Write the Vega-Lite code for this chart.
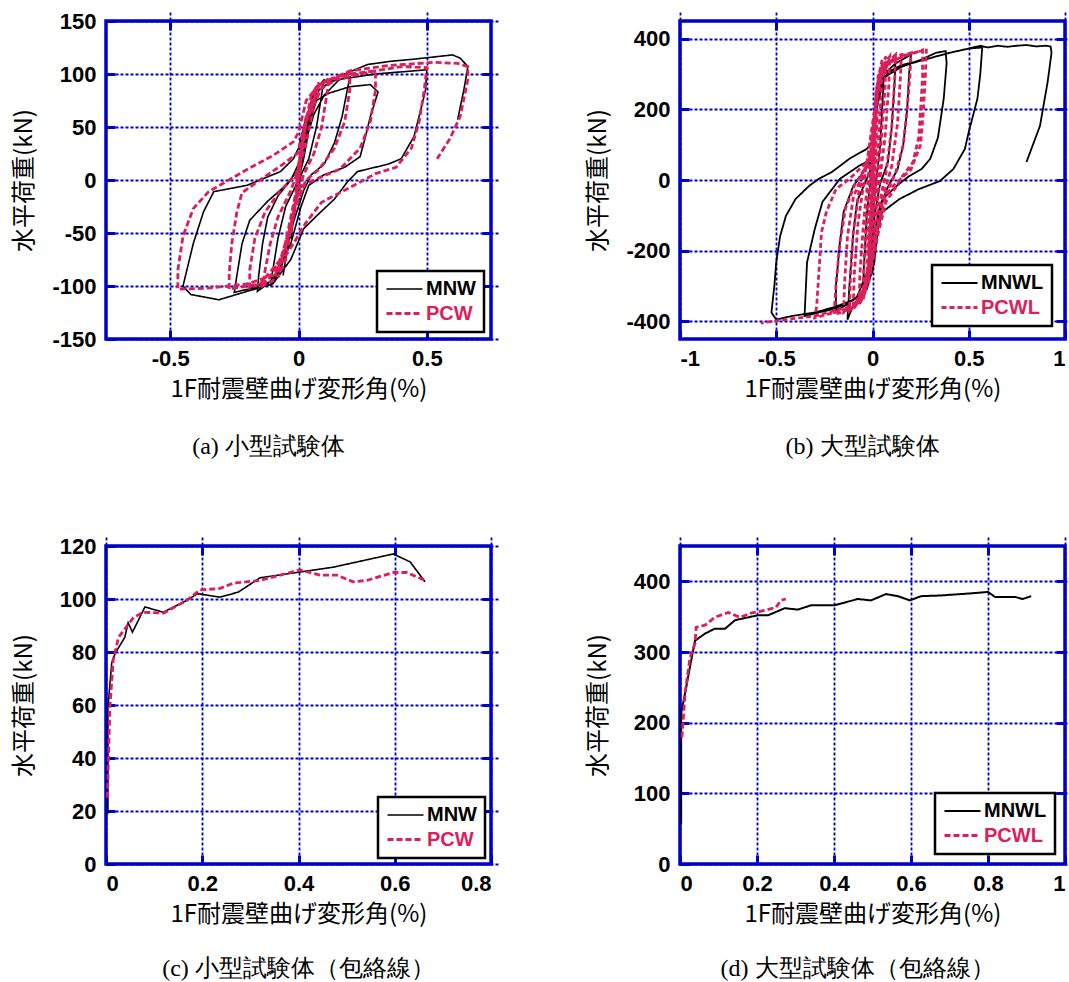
{
"$schema": "https://vega.github.io/schema/vega-lite/v6.json",
"padding": {"left": 10, "top": 8, "right": 0, "bottom": 0},
"background": "white",
"datasets": {
"a": [
{"s":"MNW","x":0,"y":0},{"s":"MNW","x":0.01,"y":30},{"s":"MNW","x":0.03,"y":60},{"s":"MNW","x":0.02,"y":40},{"s":"MNW","x":0,"y":10},{"s":"MNW","x":-0.01,"y":-20},{"s":"MNW","x":-0.03,"y":-55},{"s":"MNW","x":-0.02,"y":-35},{"s":"MNW","x":0,"y":-5},
{"s":"MNW","x":0.02,"y":40},{"s":"MNW","x":0.05,"y":75},{"s":"MNW","x":0.07,"y":88},{"s":"MNW","x":0.05,"y":60},{"s":"MNW","x":0.02,"y":20},{"s":"MNW","x":0,"y":0},{"s":"MNW","x":-0.02,"y":-35},{"s":"MNW","x":-0.05,"y":-75},{"s":"MNW","x":-0.06,"y":-90},{"s":"MNW","x":-0.04,"y":-60},{"s":"MNW","x":-0.01,"y":-20},{"s":"MNW","x":0,"y":5},
{"s":"MNW","x":0.03,"y":50},{"s":"MNW","x":0.07,"y":85},{"s":"MNW","x":0.1,"y":95},{"s":"MNW","x":0.09,"y":80},{"s":"MNW","x":0.07,"y":50},{"s":"MNW","x":0.04,"y":20},{"s":"MNW","x":0.01,"y":5},{"s":"MNW","x":-0.01,"y":-20},{"s":"MNW","x":-0.04,"y":-60},{"s":"MNW","x":-0.08,"y":-90},{"s":"MNW","x":-0.11,"y":-100},{"s":"MNW","x":-0.1,"y":-85},{"s":"MNW","x":-0.08,"y":-55},{"s":"MNW","x":-0.05,"y":-25},{"s":"MNW","x":-0.01,"y":-5},{"s":"MNW","x":0.01,"y":15},
{"s":"MNW","x":0.04,"y":55},{"s":"MNW","x":0.08,"y":85},{"s":"MNW","x":0.13,"y":93},{"s":"MNW","x":0.2,"y":97},{"s":"MNW","x":0.19,"y":85},{"s":"MNW","x":0.17,"y":60},{"s":"MNW","x":0.14,"y":35},{"s":"MNW","x":0.1,"y":15},{"s":"MNW","x":0.05,"y":5},{"s":"MNW","x":0.02,"y":-10},{"s":"MNW","x":-0.02,"y":-40},{"s":"MNW","x":-0.07,"y":-85},{"s":"MNW","x":-0.12,"y":-98},{"s":"MNW","x":-0.16,"y":-105},{"s":"MNW","x":-0.155,"y":-90},{"s":"MNW","x":-0.14,"y":-60},{"s":"MNW","x":-0.12,"y":-35},{"s":"MNW","x":-0.08,"y":-15},{"s":"MNW","x":-0.03,"y":0},{"s":"MNW","x":0,"y":15},
{"s":"MNW","x":0.03,"y":45},{"s":"MNW","x":0.07,"y":75},{"s":"MNW","x":0.12,"y":82},{"s":"MNW","x":0.2,"y":88},{"s":"MNW","x":0.28,"y":90},{"s":"MNW","x":0.31,"y":83},{"s":"MNW","x":0.28,"y":60},{"s":"MNW","x":0.26,"y":40},{"s":"MNW","x":0.24,"y":22},{"s":"MNW","x":0.18,"y":12},{"s":"MNW","x":0.1,"y":5},{"s":"MNW","x":0.04,"y":-5},{"s":"MNW","x":0.01,"y":-25},{"s":"MNW","x":-0.03,"y":-60},{"s":"MNW","x":-0.1,"y":-95},{"s":"MNW","x":-0.18,"y":-102},{"s":"MNW","x":-0.25,"y":-106},{"s":"MNW","x":-0.24,"y":-90},{"s":"MNW","x":-0.22,"y":-60},{"s":"MNW","x":-0.19,"y":-38},{"s":"MNW","x":-0.12,"y":-20},{"s":"MNW","x":-0.05,"y":-5},{"s":"MNW","x":0,"y":10},
{"s":"MNW","x":0.02,"y":30},{"s":"MNW","x":0.06,"y":62},{"s":"MNW","x":0.1,"y":80},{"s":"MNW","x":0.16,"y":95},{"s":"MNW","x":0.3,"y":100},{"s":"MNW","x":0.4,"y":102},{"s":"MNW","x":0.5,"y":104},{"s":"MNW","x":0.495,"y":85},{"s":"MNW","x":0.48,"y":70},{"s":"MNW","x":0.45,"y":41},{"s":"MNW","x":0.4,"y":20},{"s":"MNW","x":0.35,"y":15},{"s":"MNW","x":0.23,"y":8},{"s":"MNW","x":0.19,"y":-2},{"s":"MNW","x":0.14,"y":-18},{"s":"MNW","x":0.07,"y":-34},{"s":"MNW","x":0.02,"y":-46},{"s":"MNW","x":-0.03,"y":-75},{"s":"MNW","x":-0.1,"y":-98},{"s":"MNW","x":-0.2,"y":-105},{"s":"MNW","x":-0.31,"y":-113},{"s":"MNW","x":-0.42,"y":-108},{"s":"MNW","x":-0.45,"y":-100},{"s":"MNW","x":-0.44,"y":-90},{"s":"MNW","x":-0.41,"y":-60},{"s":"MNW","x":-0.37,"y":-30},{"s":"MNW","x":-0.33,"y":-11},{"s":"MNW","x":-0.2,"y":-5},{"s":"MNW","x":-0.07,"y":8},{"s":"MNW","x":-0.02,"y":20},
{"s":"MNW","x":0,"y":30},{"s":"MNW","x":0.03,"y":60},{"s":"MNW","x":0.08,"y":85},{"s":"MNW","x":0.15,"y":97},{"s":"MNW","x":0.27,"y":109},{"s":"MNW","x":0.36,"y":112},{"s":"MNW","x":0.45,"y":114},{"s":"MNW","x":0.6,"y":118},{"s":"MNW","x":0.63,"y":115},{"s":"MNW","x":0.66,"y":107},{"s":"MNW","x":0.645,"y":86},{"s":"MNW","x":0.62,"y":57},
{"s":"PCW","x":0,"y":0},{"s":"PCW","x":0.01,"y":30},{"s":"PCW","x":0.03,"y":55},{"s":"PCW","x":0.02,"y":35},{"s":"PCW","x":0,"y":10},{"s":"PCW","x":-0.01,"y":-20},{"s":"PCW","x":-0.03,"y":-50},{"s":"PCW","x":-0.02,"y":-30},{"s":"PCW","x":0,"y":-5},
{"s":"PCW","x":0.02,"y":45},{"s":"PCW","x":0.05,"y":80},{"s":"PCW","x":0.08,"y":92},{"s":"PCW","x":0.06,"y":70},{"s":"PCW","x":0.03,"y":35},{"s":"PCW","x":0,"y":10},{"s":"PCW","x":-0.02,"y":-30},{"s":"PCW","x":-0.05,"y":-75},{"s":"PCW","x":-0.08,"y":-92},{"s":"PCW","x":-0.06,"y":-70},{"s":"PCW","x":-0.03,"y":-35},{"s":"PCW","x":0,"y":0},
{"s":"PCW","x":0.03,"y":55},{"s":"PCW","x":0.07,"y":88},{"s":"PCW","x":0.12,"y":96},{"s":"PCW","x":0.11,"y":80},{"s":"PCW","x":0.09,"y":50},{"s":"PCW","x":0.06,"y":25},{"s":"PCW","x":0.02,"y":5},{"s":"PCW","x":-0.01,"y":-20},{"s":"PCW","x":-0.05,"y":-65},{"s":"PCW","x":-0.1,"y":-95},{"s":"PCW","x":-0.14,"y":-100},{"s":"PCW","x":-0.13,"y":-85},{"s":"PCW","x":-0.11,"y":-60},{"s":"PCW","x":-0.08,"y":-35},{"s":"PCW","x":-0.03,"y":-10},{"s":"PCW","x":0,"y":10},
{"s":"PCW","x":0.03,"y":55},{"s":"PCW","x":0.08,"y":90},{"s":"PCW","x":0.14,"y":97},{"s":"PCW","x":0.2,"y":100},{"s":"PCW","x":0.2,"y":85},{"s":"PCW","x":0.18,"y":55},{"s":"PCW","x":0.14,"y":30},{"s":"PCW","x":0.08,"y":10},{"s":"PCW","x":0.03,"y":0},{"s":"PCW","x":-0.01,"y":-20},{"s":"PCW","x":-0.06,"y":-70},{"s":"PCW","x":-0.12,"y":-95},{"s":"PCW","x":-0.19,"y":-102},{"s":"PCW","x":-0.19,"y":-85},{"s":"PCW","x":-0.17,"y":-55},{"s":"PCW","x":-0.13,"y":-30},{"s":"PCW","x":-0.07,"y":-10},{"s":"PCW","x":-0.01,"y":5},{"s":"PCW","x":0,"y":15},
{"s":"PCW","x":0.03,"y":55},{"s":"PCW","x":0.1,"y":92},{"s":"PCW","x":0.2,"y":100},{"s":"PCW","x":0.3,"y":103},{"s":"PCW","x":0.3,"y":85},{"s":"PCW","x":0.28,"y":55},{"s":"PCW","x":0.24,"y":30},{"s":"PCW","x":0.16,"y":10},{"s":"PCW","x":0.08,"y":2},{"s":"PCW","x":0.02,"y":-5},{"s":"PCW","x":-0.01,"y":-25},{"s":"PCW","x":-0.07,"y":-75},{"s":"PCW","x":-0.15,"y":-98},{"s":"PCW","x":-0.27,"y":-103},{"s":"PCW","x":-0.27,"y":-88},{"s":"PCW","x":-0.26,"y":-60},{"s":"PCW","x":-0.24,"y":-30},{"s":"PCW","x":-0.22,"y":-12},{"s":"PCW","x":-0.15,"y":0},{"s":"PCW","x":-0.06,"y":15},{"s":"PCW","x":0,"y":26},
{"s":"PCW","x":0.03,"y":60},{"s":"PCW","x":0.08,"y":85},{"s":"PCW","x":0.15,"y":95},{"s":"PCW","x":0.3,"y":103},{"s":"PCW","x":0.4,"y":107},{"s":"PCW","x":0.5,"y":106},{"s":"PCW","x":0.49,"y":85},{"s":"PCW","x":0.47,"y":55},{"s":"PCW","x":0.44,"y":30},{"s":"PCW","x":0.38,"y":12},{"s":"PCW","x":0.3,"y":6},{"s":"PCW","x":0.24,"y":-2},{"s":"PCW","x":0.09,"y":-21},{"s":"PCW","x":0.03,"y":-40},{"s":"PCW","x":-0.02,"y":-60},{"s":"PCW","x":-0.1,"y":-90},{"s":"PCW","x":-0.2,"y":-98},{"s":"PCW","x":-0.35,"y":-102},{"s":"PCW","x":-0.47,"y":-103},{"s":"PCW","x":-0.47,"y":-85},{"s":"PCW","x":-0.45,"y":-53},{"s":"PCW","x":-0.41,"y":-27},{"s":"PCW","x":-0.35,"y":-11},{"s":"PCW","x":-0.2,"y":10},{"s":"PCW","x":-0.1,"y":23},{"s":"PCW","x":-0.02,"y":36},{"s":"PCW","x":0,"y":45},
{"s":"PCW","x":0.03,"y":75},{"s":"PCW","x":0.08,"y":90},{"s":"PCW","x":0.2,"y":103},{"s":"PCW","x":0.35,"y":108},{"s":"PCW","x":0.53,"y":111},{"s":"PCW","x":0.62,"y":110},{"s":"PCW","x":0.66,"y":107},{"s":"PCW","x":0.66,"y":95},{"s":"PCW","x":0.63,"y":60},{"s":"PCW","x":0.59,"y":39},{"s":"PCW","x":0.54,"y":20}
],
"b": [
{"s":"MNWL","x":0,"y":0},{"s":"MNWL","x":0.01,"y":150},{"s":"MNWL","x":0.02,"y":250},{"s":"MNWL","x":0.015,"y":150},{"s":"MNWL","x":0,"y":0},{"s":"MNWL","x":-0.01,"y":-150},{"s":"MNWL","x":-0.02,"y":-250},{"s":"MNWL","x":-0.015,"y":-150},{"s":"MNWL","x":0,"y":0},
{"s":"MNWL","x":0.01,"y":150},{"s":"MNWL","x":0.03,"y":280},{"s":"MNWL","x":0.06,"y":330},{"s":"MNWL","x":0.055,"y":250},{"s":"MNWL","x":0.04,"y":100},{"s":"MNWL","x":0.02,"y":0},{"s":"MNWL","x":0,"y":-100},{"s":"MNWL","x":-0.02,"y":-250},{"s":"MNWL","x":-0.05,"y":-330},{"s":"MNWL","x":-0.045,"y":-250},{"s":"MNWL","x":-0.03,"y":-100},{"s":"MNWL","x":-0.01,"y":0},{"s":"MNWL","x":0,"y":80},
{"s":"MNWL","x":0.02,"y":250},{"s":"MNWL","x":0.05,"y":310},{"s":"MNWL","x":0.09,"y":335},{"s":"MNWL","x":0.12,"y":345},{"s":"MNWL","x":0.115,"y":280},{"s":"MNWL","x":0.1,"y":150},{"s":"MNWL","x":0.08,"y":50},{"s":"MNWL","x":0.04,"y":-10},{"s":"MNWL","x":0.01,"y":-100},{"s":"MNWL","x":-0.02,"y":-250},{"s":"MNWL","x":-0.06,"y":-330},{"s":"MNWL","x":-0.1,"y":-355},{"s":"MNWL","x":-0.13,"y":-395},{"s":"MNWL","x":-0.12,"y":-300},{"s":"MNWL","x":-0.1,"y":-150},{"s":"MNWL","x":-0.08,"y":-60},{"s":"MNWL","x":-0.04,"y":-10},{"s":"MNWL","x":-0.01,"y":30},{"s":"MNWL","x":0,"y":80},
{"s":"MNWL","x":0.02,"y":230},{"s":"MNWL","x":0.06,"y":300},{"s":"MNWL","x":0.12,"y":330},{"s":"MNWL","x":0.2,"y":355},{"s":"MNWL","x":0.19,"y":300},{"s":"MNWL","x":0.18,"y":200},{"s":"MNWL","x":0.16,"y":100},{"s":"MNWL","x":0.13,"y":30},{"s":"MNWL","x":0.08,"y":-20},{"s":"MNWL","x":0.04,"y":-70},{"s":"MNWL","x":0.01,"y":-150},{"s":"MNWL","x":-0.02,"y":-250},{"s":"MNWL","x":-0.08,"y":-330},{"s":"MNWL","x":-0.14,"y":-355},{"s":"MNWL","x":-0.19,"y":-370},{"s":"MNWL","x":-0.19,"y":-300},{"s":"MNWL","x":-0.17,"y":-180},{"s":"MNWL","x":-0.15,"y":-90},{"s":"MNWL","x":-0.1,"y":-17},{"s":"MNWL","x":-0.05,"y":20},{"s":"MNWL","x":0,"y":60},
{"s":"MNWL","x":0.02,"y":200},{"s":"MNWL","x":0.06,"y":290},{"s":"MNWL","x":0.15,"y":320},{"s":"MNWL","x":0.25,"y":340},{"s":"MNWL","x":0.33,"y":360},{"s":"MNWL","x":0.38,"y":365},{"s":"MNWL","x":0.385,"y":330},{"s":"MNWL","x":0.37,"y":230},{"s":"MNWL","x":0.34,"y":120},{"s":"MNWL","x":0.3,"y":60},{"s":"MNWL","x":0.255,"y":31},{"s":"MNWL","x":0.19,"y":11},{"s":"MNWL","x":0.125,"y":-17},{"s":"MNWL","x":0.052,"y":-54},{"s":"MNWL","x":0.036,"y":-102},{"s":"MNWL","x":0.02,"y":-180},{"s":"MNWL","x":0,"y":-260},{"s":"MNWL","x":-0.05,"y":-320},{"s":"MNWL","x":-0.12,"y":-345},{"s":"MNWL","x":-0.2,"y":-365},{"s":"MNWL","x":-0.28,"y":-375},{"s":"MNWL","x":-0.353,"y":-385},{"s":"MNWL","x":-0.34,"y":-233},{"s":"MNWL","x":-0.3,"y":-139},{"s":"MNWL","x":-0.26,"y":-62},{"s":"MNWL","x":-0.21,"y":-26},{"s":"MNWL","x":-0.17,"y":3},{"s":"MNWL","x":-0.07,"y":40},{"s":"MNWL","x":0,"y":60},
{"s":"MNWL","x":0.01,"y":150},{"s":"MNWL","x":0.04,"y":280},{"s":"MNWL","x":0.1,"y":310},{"s":"MNWL","x":0.2,"y":330},{"s":"MNWL","x":0.3,"y":345},{"s":"MNWL","x":0.4,"y":360},{"s":"MNWL","x":0.5,"y":372},{"s":"MNWL","x":0.57,"y":375},{"s":"MNWL","x":0.56,"y":300},{"s":"MNWL","x":0.545,"y":230},{"s":"MNWL","x":0.5,"y":136},{"s":"MNWL","x":0.48,"y":88},{"s":"MNWL","x":0.42,"y":31},{"s":"MNWL","x":0.35,"y":-3},{"s":"MNWL","x":0.24,"y":-26},{"s":"MNWL","x":0.14,"y":-54},{"s":"MNWL","x":0.05,"y":-91},{"s":"MNWL","x":0.02,"y":-159},{"s":"MNWL","x":0.01,"y":-233},{"s":"MNWL","x":-0.03,"y":-310},{"s":"MNWL","x":-0.1,"y":-340},{"s":"MNWL","x":-0.2,"y":-360},{"s":"MNWL","x":-0.3,"y":-375},{"s":"MNWL","x":-0.42,"y":-385},{"s":"MNWL","x":-0.5,"y":-395},{"s":"MNWL","x":-0.525,"y":-375},{"s":"MNWL","x":-0.51,"y":-300},{"s":"MNWL","x":-0.5,"y":-233},{"s":"MNWL","x":-0.48,"y":-159},{"s":"MNWL","x":-0.45,"y":-102},{"s":"MNWL","x":-0.4,"y":-54},{"s":"MNWL","x":-0.33,"y":-17},{"s":"MNWL","x":-0.28,"y":3},{"s":"MNWL","x":-0.21,"y":23},{"s":"MNWL","x":-0.12,"y":60},{"s":"MNWL","x":-0.03,"y":88},{"s":"MNWL","x":0,"y":110},
{"s":"MNWL","x":0.02,"y":250},{"s":"MNWL","x":0.06,"y":300},{"s":"MNWL","x":0.15,"y":325},{"s":"MNWL","x":0.3,"y":345},{"s":"MNWL","x":0.4,"y":360},{"s":"MNWL","x":0.5,"y":372},{"s":"MNWL","x":0.56,"y":380},{"s":"MNWL","x":0.6,"y":375},{"s":"MNWL","x":0.65,"y":380},{"s":"MNWL","x":0.7,"y":377},{"s":"MNWL","x":0.75,"y":380},{"s":"MNWL","x":0.8,"y":382},{"s":"MNWL","x":0.85,"y":378},{"s":"MNWL","x":0.9,"y":380},{"s":"MNWL","x":0.925,"y":378},{"s":"MNWL","x":0.93,"y":360},{"s":"MNWL","x":0.91,"y":278},{"s":"MNWL","x":0.87,"y":153},{"s":"MNWL","x":0.8,"y":51},
{"s":"PCWL","x":0,"y":0},{"s":"PCWL","x":0.01,"y":120},{"s":"PCWL","x":0.02,"y":200},{"s":"PCWL","x":0.012,"y":80},{"s":"PCWL","x":0,"y":-20},{"s":"PCWL","x":-0.01,"y":-120},{"s":"PCWL","x":-0.02,"y":-200},{"s":"PCWL","x":-0.012,"y":-80},{"s":"PCWL","x":0,"y":20},
{"s":"PCWL","x":0.015,"y":200},{"s":"PCWL","x":0.03,"y":300},{"s":"PCWL","x":0.022,"y":150},{"s":"PCWL","x":0.008,"y":0},{"s":"PCWL","x":-0.01,"y":-150},{"s":"PCWL","x":-0.03,"y":-300},{"s":"PCWL","x":-0.022,"y":-150},{"s":"PCWL","x":-0.008,"y":0},
{"s":"PCWL","x":0.01,"y":150},{"s":"PCWL","x":0.03,"y":290},{"s":"PCWL","x":0.05,"y":340},{"s":"PCWL","x":0.045,"y":250},{"s":"PCWL","x":0.03,"y":100},{"s":"PCWL","x":0.01,"y":-30},{"s":"PCWL","x":-0.01,"y":-170},{"s":"PCWL","x":-0.03,"y":-300},{"s":"PCWL","x":-0.05,"y":-340},{"s":"PCWL","x":-0.045,"y":-250},{"s":"PCWL","x":-0.03,"y":-100},{"s":"PCWL","x":-0.01,"y":30},
{"s":"PCWL","x":0.01,"y":170},{"s":"PCWL","x":0.04,"y":310},{"s":"PCWL","x":0.07,"y":350},{"s":"PCWL","x":0.065,"y":260},{"s":"PCWL","x":0.045,"y":110},{"s":"PCWL","x":0.02,"y":-20},{"s":"PCWL","x":-0.01,"y":-180},{"s":"PCWL","x":-0.04,"y":-320},{"s":"PCWL","x":-0.07,"y":-355},{"s":"PCWL","x":-0.065,"y":-260},{"s":"PCWL","x":-0.045,"y":-110},{"s":"PCWL","x":-0.02,"y":20},
{"s":"PCWL","x":0.01,"y":180},{"s":"PCWL","x":0.05,"y":320},{"s":"PCWL","x":0.09,"y":350},{"s":"PCWL","x":0.085,"y":270},{"s":"PCWL","x":0.065,"y":120},{"s":"PCWL","x":0.035,"y":-10},{"s":"PCWL","x":0,"y":-170},{"s":"PCWL","x":-0.05,"y":-330},{"s":"PCWL","x":-0.1,"y":-365},{"s":"PCWL","x":-0.095,"y":-270},{"s":"PCWL","x":-0.075,"y":-120},{"s":"PCWL","x":-0.04,"y":10},
{"s":"PCWL","x":0,"y":160},{"s":"PCWL","x":0.05,"y":320},{"s":"PCWL","x":0.12,"y":355},{"s":"PCWL","x":0.115,"y":280},{"s":"PCWL","x":0.1,"y":150},{"s":"PCWL","x":0.07,"y":20},{"s":"PCWL","x":0.03,"y":-80},{"s":"PCWL","x":0,"y":-200},{"s":"PCWL","x":-0.06,"y":-340},{"s":"PCWL","x":-0.12,"y":-370},{"s":"PCWL","x":-0.115,"y":-280},{"s":"PCWL","x":-0.1,"y":-150},{"s":"PCWL","x":-0.07,"y":-30},{"s":"PCWL","x":-0.03,"y":40},
{"s":"PCWL","x":0,"y":150},{"s":"PCWL","x":0.05,"y":320},{"s":"PCWL","x":0.1,"y":345},{"s":"PCWL","x":0.15,"y":355},{"s":"PCWL","x":0.145,"y":290},{"s":"PCWL","x":0.13,"y":160},{"s":"PCWL","x":0.1,"y":40},{"s":"PCWL","x":0.06,"y":-40},{"s":"PCWL","x":0.02,"y":-150},{"s":"PCWL","x":-0.03,"y":-300},{"s":"PCWL","x":-0.1,"y":-360},{"s":"PCWL","x":-0.15,"y":-375},{"s":"PCWL","x":-0.145,"y":-290},{"s":"PCWL","x":-0.13,"y":-160},{"s":"PCWL","x":-0.1,"y":-50},{"s":"PCWL","x":-0.05,"y":20},{"s":"PCWL","x":0,"y":80},
{"s":"PCWL","x":0.02,"y":250},{"s":"PCWL","x":0.07,"y":330},{"s":"PCWL","x":0.14,"y":350},{"s":"PCWL","x":0.2,"y":360},{"s":"PCWL","x":0.195,"y":300},{"s":"PCWL","x":0.18,"y":200},{"s":"PCWL","x":0.16,"y":100},{"s":"PCWL","x":0.12,"y":20},{"s":"PCWL","x":0.07,"y":-40},{"s":"PCWL","x":0.03,"y":-130},{"s":"PCWL","x":-0.02,"y":-280},{"s":"PCWL","x":-0.1,"y":-360},{"s":"PCWL","x":-0.16,"y":-375},{"s":"PCWL","x":-0.2,"y":-380},{"s":"PCWL","x":-0.19,"y":-300},{"s":"PCWL","x":-0.17,"y":-180},{"s":"PCWL","x":-0.14,"y":-80},{"s":"PCWL","x":-0.09,"y":-10},{"s":"PCWL","x":-0.03,"y":40},{"s":"PCWL","x":0,"y":90},
{"s":"PCWL","x":0.02,"y":260},{"s":"PCWL","x":0.08,"y":330},{"s":"PCWL","x":0.16,"y":350},{"s":"PCWL","x":0.22,"y":360},{"s":"PCWL","x":0.26,"y":368},{"s":"PCWL","x":0.26,"y":290},{"s":"PCWL","x":0.25,"y":200},{"s":"PCWL","x":0.24,"y":120},{"s":"PCWL","x":0.21,"y":50},{"s":"PCWL","x":0.156,"y":11},{"s":"PCWL","x":0.125,"y":-17},{"s":"PCWL","x":0.07,"y":-62},{"s":"PCWL","x":0.03,"y":-150},{"s":"PCWL","x":-0.02,"y":-290},{"s":"PCWL","x":-0.1,"y":-360},{"s":"PCWL","x":-0.2,"y":-375},{"s":"PCWL","x":-0.3,"y":-390},{"s":"PCWL","x":-0.29,"y":-357},{"s":"PCWL","x":-0.265,"y":-148},{"s":"PCWL","x":-0.24,"y":-91},{"s":"PCWL","x":-0.19,"y":-26},{"s":"PCWL","x":-0.12,"y":3},{"s":"PCWL","x":-0.05,"y":40},{"s":"PCWL","x":0,"y":60},
{"s":"PCWL","x":0.02,"y":250},{"s":"PCWL","x":0.08,"y":330},{"s":"PCWL","x":0.18,"y":355},{"s":"PCWL","x":0.25,"y":365},{"s":"PCWL","x":0.28,"y":372},{"s":"PCWL","x":0.275,"y":300},{"s":"PCWL","x":0.265,"y":200},{"s":"PCWL","x":0.25,"y":100},{"s":"PCWL","x":0.2,"y":30},{"s":"PCWL","x":0.15,"y":5},{"s":"PCWL","x":0.1,"y":-20},{"s":"PCWL","x":0.05,"y":-60},{"s":"PCWL","x":0.02,"y":-150},{"s":"PCWL","x":-0.01,"y":-250},{"s":"PCWL","x":-0.05,"y":-330},{"s":"PCWL","x":-0.12,"y":-360},{"s":"PCWL","x":-0.2,"y":-370},{"s":"PCWL","x":-0.3,"y":-385},{"s":"PCWL","x":-0.38,"y":-390},{"s":"PCWL","x":-0.45,"y":-395},{"s":"PCWL","x":-0.52,"y":-400},{"s":"PCWL","x":-0.58,"y":-405}
],
"c": [
{"s":"MNW","x":0.004,"y":19},{"s":"MNW","x":0.004,"y":59},{"s":"MNW","x":0.012,"y":76},{"s":"MNW","x":0.019,"y":79.5},{"s":"MNW","x":0.039,"y":85.5},{"s":"MNW","x":0.046,"y":91},{"s":"MNW","x":0.055,"y":87.5},{"s":"MNW","x":0.081,"y":97},{"s":"MNW","x":0.119,"y":95},{"s":"MNW","x":0.168,"y":99.5},{"s":"MNW","x":0.19,"y":102},{"s":"MNW","x":0.237,"y":100.7},{"s":"MNW","x":0.275,"y":102.6},{"s":"MNW","x":0.32,"y":108},{"s":"MNW","x":0.472,"y":112},{"s":"MNW","x":0.597,"y":117},{"s":"MNW","x":0.632,"y":114},{"s":"MNW","x":0.663,"y":106.5},
{"s":"PCW","x":0.003,"y":25},{"s":"PCW","x":0.008,"y":59},{"s":"PCW","x":0.015,"y":77},{"s":"PCW","x":0.026,"y":85.5},{"s":"PCW","x":0.057,"y":93},{"s":"PCW","x":0.078,"y":95},{"s":"PCW","x":0.12,"y":94.7},{"s":"PCW","x":0.168,"y":99.5},{"s":"PCW","x":0.195,"y":103.4},{"s":"PCW","x":0.237,"y":104},{"s":"PCW","x":0.265,"y":106},{"s":"PCW","x":0.32,"y":107},{"s":"PCW","x":0.403,"y":111},{"s":"PCW","x":0.445,"y":109},{"s":"PCW","x":0.48,"y":109},{"s":"PCW","x":0.513,"y":106.5},{"s":"PCW","x":0.542,"y":107},{"s":"PCW","x":0.597,"y":110},{"s":"PCW","x":0.625,"y":110},{"s":"PCW","x":0.663,"y":107}
],
"d": [
{"s":"MNWL","x":0.003,"y":57},{"s":"MNWL","x":0.003,"y":213},{"s":"MNWL","x":0.016,"y":250},{"s":"MNWL","x":0.029,"y":288},{"s":"MNWL","x":0.039,"y":316},{"s":"MNWL","x":0.065,"y":326},{"s":"MNWL","x":0.09,"y":333},{"s":"MNWL","x":0.117,"y":333},{"s":"MNWL","x":0.143,"y":345},{"s":"MNWL","x":0.168,"y":348},{"s":"MNWL","x":0.203,"y":352},{"s":"MNWL","x":0.229,"y":352},{"s":"MNWL","x":0.272,"y":362},{"s":"MNWL","x":0.306,"y":360},{"s":"MNWL","x":0.34,"y":366},{"s":"MNWL","x":0.376,"y":366},{"s":"MNWL","x":0.4,"y":366},{"s":"MNWL","x":0.462,"y":375},{"s":"MNWL","x":0.496,"y":373},{"s":"MNWL","x":0.535,"y":382},{"s":"MNWL","x":0.566,"y":379},{"s":"MNWL","x":0.597,"y":373},{"s":"MNWL","x":0.626,"y":379},{"s":"MNWL","x":0.678,"y":380},{"s":"MNWL","x":0.756,"y":383},{"s":"MNWL","x":0.8,"y":385},{"s":"MNWL","x":0.818,"y":378},{"s":"MNWL","x":0.87,"y":378},{"s":"MNWL","x":0.89,"y":375},{"s":"MNWL","x":0.912,"y":379},
{"s":"PCWL","x":0.005,"y":179},{"s":"PCWL","x":0.013,"y":241},{"s":"PCWL","x":0.026,"y":292},{"s":"PCWL","x":0.039,"y":312},{"s":"PCWL","x":0.042,"y":335},{"s":"PCWL","x":0.065,"y":338},{"s":"PCWL","x":0.09,"y":349},{"s":"PCWL","x":0.125,"y":356},{"s":"PCWL","x":0.156,"y":349},{"s":"PCWL","x":0.184,"y":355},{"s":"PCWL","x":0.22,"y":359},{"s":"PCWL","x":0.249,"y":363},{"s":"PCWL","x":0.262,"y":373},{"s":"PCWL","x":0.275,"y":375}
]
},
"columns": 2,
"spacing": {"row": 72, "column": 89},
"resolve": {"scale": {"color": "independent", "strokeDash": "independent", "strokeWidth": "independent"}, "legend": {"color": "independent", "strokeDash": "independent"}},
"concat": [
{
 "width": 385, "height": 318,
 "title": {"text": "(a)  小型試験体", "orient": "bottom", "dx": -30, "offset": 34},
 "data": {"name": "a"},
 "layer": [
  {"transform": [{"filter": "datum.s == 'MNW'"}],
   "mark": {"type": "line", "clip": true},
   "encoding": {
    "x": {"field": "x", "type": "quantitative", "scale": {"domain": [-0.75, 0.75], "nice": false, "zero": false}, "axis": {"values": [-0.5, 0, 0.5], "title": "1F耐震壁曲げ変形角(%)", "labelExpr": "replace(format(datum.value,'~g'),'\u2212','-')"}},
    "y": {"field": "y", "type": "quantitative", "scale": {"domain": [-150, 150], "nice": false, "zero": false}, "axis": {"values": [-150, -100, -50, 0, 50, 100, 150], "title": "水平荷重(kN)", "labelExpr": "replace(format(datum.value,'~g'),'\u2212','-')"}},
    "color": {"field": "s", "type": "nominal", "scale": {"domain": ["MNW", "PCW"], "range": ["#000000", "#dc1e5a"]},
      "legend": {"orient": "bottom-right", "title": null, "offset": 7, "padding": 8, "strokeColor": "#000000", "fillColor": "#ffffff", "symbolType": "M-2,0H2", "symbolSize": 324, "symbolOffset": 9, "symbolStrokeWidth": 2.5, "labelFont": "Liberation Sans", "labelFontWeight": "bold", "labelFontSize": 20, "rowPadding": 4, "labelOffset": 11,
        "encode": {"legend": {"update": {"strokeWidth": {"value": 2.5}}}, "labels": {"update": {"fill": {"signal": "datum.value == 'MNW' ? '#000000' : '#dc1e5a'"}}}}}},
    "strokeDash": {"field": "s", "type": "nominal", "scale": {"domain": ["MNW", "PCW"], "range": [[1, 0], [6, 3]]}},
    "strokeWidth": {"field": "s", "type": "nominal", "scale": {"domain": ["MNW", "PCW"], "range": [1.6, 2.8]}, "legend": null},
    "order": {"value": null}
   }},
  {"transform": [{"filter": "datum.s == 'PCW'"}],
   "mark": {"type": "line", "clip": true},
   "encoding": {
    "x": {"field": "x", "type": "quantitative", "axis": {"orient": "top", "values": [-0.5, 0, 0.5], "labels": false, "grid": false, "title": null, "minExtent": 0, "maxExtent": 0}},
    "y": {"field": "y", "type": "quantitative", "axis": {"orient": "right", "values": [-100, -50, 0, 50, 100], "labels": false, "grid": false, "title": null, "minExtent": 0, "maxExtent": 0}},
    "color": {"field": "s", "type": "nominal"},
    "strokeDash": {"field": "s", "type": "nominal"},
    "strokeWidth": {"field": "s", "type": "nominal", "legend": null},
    "order": {"value": null}
   }}
 ],
 "resolve": {"axis": {"x": "independent", "y": "independent"}}
},
{
 "width": 385, "height": 318,
 "title": {"text": "(b)  大型試験体", "orient": "bottom", "dx": -10, "offset": 34},
 "data": {"name": "b"},
 "layer": [
  {"transform": [{"filter": "datum.s == 'MNWL'"}],
   "mark": {"type": "line", "clip": true},
   "encoding": {
    "x": {"field": "x", "type": "quantitative", "scale": {"domain": [-1, 1], "nice": false, "zero": false}, "axis": {"values": [-1, -0.5, 0, 0.5, 1], "title": "1F耐震壁曲げ変形角(%)", "labelExpr": "replace(format(datum.value,'~g'),'\u2212','-')"}},
    "y": {"field": "y", "type": "quantitative", "scale": {"domain": [-450, 450], "nice": false, "zero": false}, "axis": {"values": [-400, -200, 0, 200, 400], "title": "水平荷重(kN)", "labelExpr": "replace(format(datum.value,'~g'),'\u2212','-')"}},
    "color": {"field": "s", "type": "nominal", "scale": {"domain": ["MNWL", "PCWL"], "range": ["#000000", "#dc1e5a"]},
      "legend": {"orient": "bottom-right", "title": null, "offset": 13, "padding": 8, "strokeColor": "#000000", "fillColor": "#ffffff", "symbolType": "M-2,0H2", "symbolSize": 324, "symbolOffset": 9, "symbolStrokeWidth": 2.5, "labelFont": "Liberation Sans", "labelFontWeight": "bold", "labelFontSize": 20, "rowPadding": 4, "labelOffset": 11,
        "encode": {"legend": {"update": {"strokeWidth": {"value": 2.5}}}, "labels": {"update": {"fill": {"signal": "datum.value == 'MNWL' ? '#000000' : '#dc1e5a'"}}}}}},
    "strokeDash": {"field": "s", "type": "nominal", "scale": {"domain": ["MNWL", "PCWL"], "range": [[1, 0], [5, 3]]}},
    "strokeWidth": {"field": "s", "type": "nominal", "scale": {"domain": ["MNWL", "PCWL"], "range": [1.8, 2.8]}, "legend": null},
    "order": {"value": null}
   }},
  {"transform": [{"filter": "datum.s == 'PCWL'"}],
   "mark": {"type": "line", "clip": true},
   "encoding": {
    "x": {"field": "x", "type": "quantitative", "axis": {"orient": "top", "values": [-0.5, 0, 0.5], "labels": false, "grid": false, "title": null, "minExtent": 0, "maxExtent": 0}},
    "y": {"field": "y", "type": "quantitative", "axis": {"orient": "right", "values": [-400, -200, 0, 200, 400], "labels": false, "grid": false, "title": null, "minExtent": 0, "maxExtent": 0}},
    "color": {"field": "s", "type": "nominal"},
    "strokeDash": {"field": "s", "type": "nominal"},
    "strokeWidth": {"field": "s", "type": "nominal", "legend": null},
    "order": {"value": null}
   }}
 ],
 "resolve": {"axis": {"x": "independent", "y": "independent"}}
},
{
 "width": 385, "height": 318,
 "title": {"text": "(c)  小型試験体（包絡線）", "orient": "bottom", "dx": 0, "offset": 31},
 "data": {"name": "c"},
 "layer": [
  {"transform": [{"filter": "datum.s == 'MNW'"}],
   "mark": {"type": "line", "clip": true},
   "encoding": {
    "x": {"field": "x", "type": "quantitative", "scale": {"domain": [0, 0.8], "nice": false}, "axis": {"values": [0, 0.2, 0.4, 0.6, 0.8], "title": "1F耐震壁曲げ変形角(%)", "labelExpr": "replace(format(datum.value,'~g'),'\u2212','-')"}},
    "y": {"field": "y", "type": "quantitative", "scale": {"domain": [0, 120], "nice": false}, "axis": {"values": [0, 20, 40, 60, 80, 100, 120], "title": "水平荷重(kN)", "labelExpr": "replace(format(datum.value,'~g'),'\u2212','-')"}},
    "color": {"field": "s", "type": "nominal", "scale": {"domain": ["MNW", "PCW"], "range": ["#000000", "#dc1e5a"]},
      "legend": {"orient": "bottom-right", "title": null, "offset": 6, "padding": 8, "strokeColor": "#000000", "fillColor": "#ffffff", "symbolType": "M-2,0H2", "symbolSize": 324, "symbolOffset": 9, "symbolStrokeWidth": 2.5, "labelFont": "Liberation Sans", "labelFontWeight": "bold", "labelFontSize": 20, "rowPadding": 4, "labelOffset": 11,
        "encode": {"legend": {"update": {"strokeWidth": {"value": 2.5}}}, "labels": {"update": {"fill": {"signal": "datum.value == 'MNW' ? '#000000' : '#dc1e5a'"}}}}}},
    "strokeDash": {"field": "s", "type": "nominal", "scale": {"domain": ["MNW", "PCW"], "range": [[1, 0], [6, 3]]}},
    "strokeWidth": {"field": "s", "type": "nominal", "scale": {"domain": ["MNW", "PCW"], "range": [1.6, 2.8]}, "legend": null},
    "order": {"value": null}
   }},
  {"transform": [{"filter": "datum.s == 'PCW'"}],
   "mark": {"type": "line", "clip": true},
   "encoding": {
    "x": {"field": "x", "type": "quantitative", "axis": {"orient": "top", "values": [0.2, 0.4, 0.6], "labels": false, "grid": false, "title": null, "minExtent": 0, "maxExtent": 0}},
    "y": {"field": "y", "type": "quantitative", "axis": {"orient": "right", "values": [20, 40, 60, 80, 100], "labels": false, "grid": false, "title": null, "minExtent": 0, "maxExtent": 0}},
    "color": {"field": "s", "type": "nominal"},
    "strokeDash": {"field": "s", "type": "nominal"},
    "strokeWidth": {"field": "s", "type": "nominal", "legend": null},
    "order": {"value": null}
   }}
 ],
 "resolve": {"axis": {"x": "independent", "y": "independent"}}
},
{
 "width": 385, "height": 318,
 "title": {"text": "(d)  大型試験体（包絡線）", "orient": "bottom", "dx": -15, "offset": 31},
 "data": {"name": "d"},
 "layer": [
  {"transform": [{"filter": "datum.s == 'MNWL'"}],
   "mark": {"type": "line", "clip": true},
   "encoding": {
    "x": {"field": "x", "type": "quantitative", "scale": {"domain": [0, 1], "nice": false}, "axis": {"values": [0, 0.2, 0.4, 0.6, 0.8, 1], "title": "1F耐震壁曲げ変形角(%)", "labelExpr": "replace(format(datum.value,'~g'),'\u2212','-')"}},
    "y": {"field": "y", "type": "quantitative", "scale": {"domain": [0, 450], "nice": false}, "axis": {"values": [0, 100, 200, 300, 400], "title": "水平荷重(kN)", "labelExpr": "replace(format(datum.value,'~g'),'\u2212','-')"}},
    "color": {"field": "s", "type": "nominal", "scale": {"domain": ["MNWL", "PCWL"], "range": ["#000000", "#dc1e5a"]},
      "legend": {"orient": "bottom-right", "title": null, "offset": 10, "padding": 8, "strokeColor": "#000000", "fillColor": "#ffffff", "symbolType": "M-2,0H2", "symbolSize": 324, "symbolOffset": 9, "symbolStrokeWidth": 2.5, "labelFont": "Liberation Sans", "labelFontWeight": "bold", "labelFontSize": 20, "rowPadding": 4, "labelOffset": 11,
        "encode": {"legend": {"update": {"strokeWidth": {"value": 2.5}}}, "labels": {"update": {"fill": {"signal": "datum.value == 'MNWL' ? '#000000' : '#dc1e5a'"}}}}}},
    "strokeDash": {"field": "s", "type": "nominal", "scale": {"domain": ["MNWL", "PCWL"], "range": [[1, 0], [6, 3]]}},
    "strokeWidth": {"field": "s", "type": "nominal", "scale": {"domain": ["MNWL", "PCWL"], "range": [2, 2.8]}, "legend": null},
    "order": {"value": null}
   }},
  {"transform": [{"filter": "datum.s == 'PCWL'"}],
   "mark": {"type": "line", "clip": true},
   "encoding": {
    "x": {"field": "x", "type": "quantitative", "axis": {"orient": "top", "values": [0.2, 0.4, 0.6, 0.8], "labels": false, "grid": false, "title": null, "minExtent": 0, "maxExtent": 0}},
    "y": {"field": "y", "type": "quantitative", "axis": {"orient": "right", "values": [100, 200, 300, 400], "labels": false, "grid": false, "title": null, "minExtent": 0, "maxExtent": 0}},
    "color": {"field": "s", "type": "nominal"},
    "strokeDash": {"field": "s", "type": "nominal"},
    "strokeWidth": {"field": "s", "type": "nominal", "legend": null},
    "order": {"value": null}
   }}
 ],
 "resolve": {"axis": {"x": "independent", "y": "independent"}}
}
],
"config": {
 "view": {"stroke": "#0000cc", "strokeWidth": 3.5},
 "axis": {"labelFont": "Liberation Sans", "labelFontWeight": "bold", "labelFontSize": 22, "labelColor": "#000000",
   "titleFont": "Noto Sans CJK JP", "titleFontWeight": "normal", "titleFontSize": 24, "titleColor": "#000000",
   "gridColor": "#0000cc", "gridDash": [3, 2], "gridWidth": 1.8, "gridOpacity": 1,
   "domain": false, "ticks": true, "tickColor": "#0000cc", "tickWidth": 3, "tickSize": 9, "offset": -9},
 "axisX": {"labelPadding": 9, "titlePadding": 8},
 "axisY": {"labelPadding": 10, "minExtent": 59, "maxExtent": 59, "titlePadding": 20},
 "title": {"font": "Liberation Serif", "fontSize": 24, "fontWeight": "normal", "color": "#000000"}
}
}
